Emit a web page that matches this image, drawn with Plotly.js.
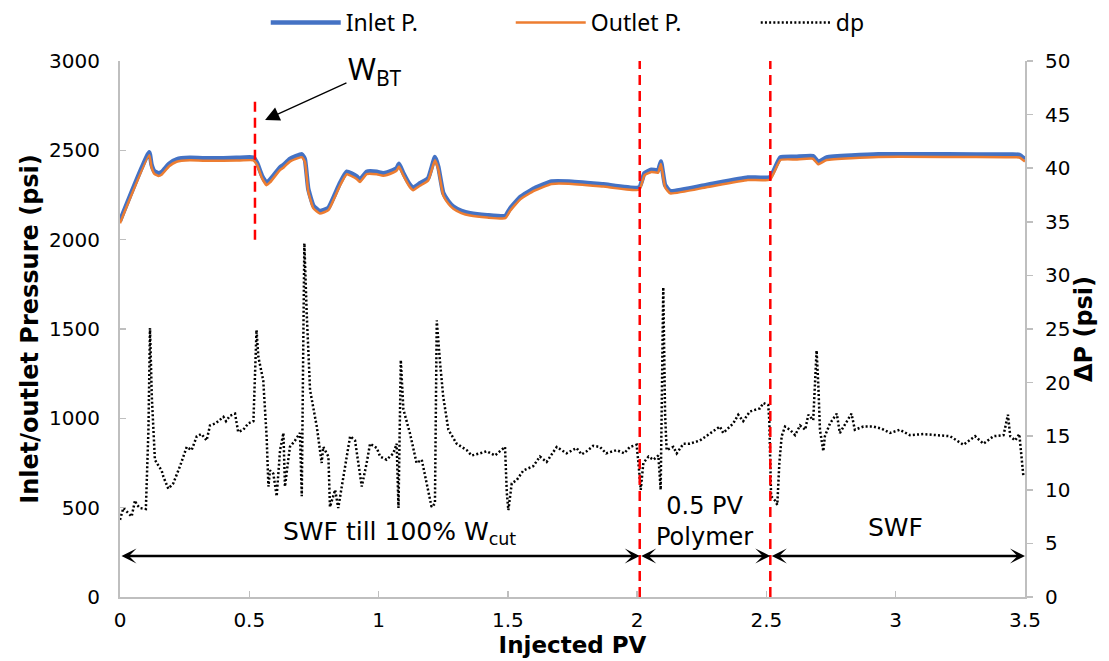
<!DOCTYPE html>
<html>
<head>
<meta charset="utf-8">
<script src="https://cdn.plot.ly/plotly-3.0.1.min.js"></script>
<style>html,body{margin:0;padding:0;background:#fff;}#chart{width:1109px;height:661px;}</style>
</head>
<body>
<div id="chart"></div>
<script>
// ---- Data ----
const pressureX = [0, 0.113, 0.122, 0.132, 0.148, 0.162, 0.19, 0.219, 0.27, 0.35, 0.45, 0.516, 0.53, 0.55, 0.567, 0.58, 0.619, 0.632, 0.657, 0.703, 0.715, 0.728, 0.748,
  0.773, 0.806, 0.83, 0.851, 0.877, 0.915, 0.928, 0.954, 0.993, 1.018, 1.057, 1.07, 1.079, 1.096, 1.121, 1.134, 1.16, 1.192, 1.218, 1.231, 1.25,
  1.27, 1.289, 1.32, 1.354, 1.42, 1.49, 1.509, 1.549, 1.603, 1.669, 1.736, 1.869, 2.008, 2.028, 2.055, 2.081, 2.092, 2.108, 2.128, 2.268, 2.428, 2.514,
  2.554, 2.614, 2.68, 2.7, 2.733, 2.933, 3.2, 3.425, 3.478, 3.5];
const inletP = [2105, 2490, 2420, 2385, 2372, 2380, 2425, 2450, 2458, 2455, 2458, 2460, 2430, 2355, 2318, 2335, 2405, 2418, 2452, 2478, 2450, 2285, 2190,
  2160, 2178, 2250, 2318, 2380, 2355, 2336, 2380, 2380, 2372, 2390, 2400, 2425, 2372, 2308, 2290, 2316, 2345, 2462, 2408, 2262,
  2215, 2186, 2162, 2148, 2137, 2133, 2175, 2240, 2288, 2326, 2326, 2310, 2292, 2372, 2392, 2388, 2438, 2306, 2272, 2306, 2348, 2350,
  2460, 2464, 2468, 2436, 2460, 2478, 2478, 2476, 2475, 2450];
const outletP = [2092, 2472, 2405, 2370, 2357, 2365, 2411, 2436, 2444, 2441, 2443, 2444, 2418, 2342, 2305, 2320, 2390, 2403, 2437, 2462, 2436, 2270, 2175,
  2146, 2165, 2236, 2303, 2366, 2340, 2323, 2367, 2366, 2358, 2376, 2386, 2410, 2358, 2294, 2277, 2302, 2331, 2444, 2393, 2248,
  2201, 2173, 2149, 2135, 2124, 2120, 2162, 2227, 2274, 2312, 2313, 2297, 2279, 2360, 2379, 2375, 2423, 2293, 2259, 2293, 2334, 2336,
  2446, 2449, 2453, 2422, 2446, 2463, 2463, 2461, 2460, 2437];

const dpX = [0, 0.013, 0.025, 0.045, 0.058, 0.065, 0.077, 0.1, 0.11, 0.116, 0.123, 0.135, 0.15, 0.161, 0.168, 0.187, 0.206, 0.232, 0.258, 0.277,
  0.297, 0.315, 0.335, 0.348, 0.37, 0.4, 0.41, 0.425, 0.445, 0.457, 0.477, 0.496, 0.516, 0.528, 0.535, 0.554, 0.567, 0.574, 0.58, 0.593,
  0.606, 0.619, 0.632, 0.638, 0.657, 0.677, 0.696, 0.703, 0.709, 0.713, 0.722, 0.735, 0.761, 0.78, 0.786, 0.806, 0.812, 0.832, 0.844, 0.864,
  0.89, 0.909, 0.922, 0.935, 0.954, 0.967, 0.993, 1.006, 1.031, 1.057, 1.07, 1.077, 1.086, 1.096, 1.121, 1.147, 1.167, 1.186, 1.205, 1.218,
  1.225, 1.238, 1.25, 1.27, 1.302, 1.341, 1.36, 1.392, 1.418, 1.45, 1.489, 1.496, 1.502, 1.515, 1.534, 1.56, 1.598, 1.624, 1.65, 1.689,
  1.727, 1.766, 1.785, 1.805, 1.83, 1.856, 1.88, 1.921, 1.95, 1.972, 1.998, 2.005, 2.014, 2.024, 2.044, 2.063, 2.082, 2.091, 2.097, 2.101,
  2.108, 2.114, 2.14, 2.153, 2.179, 2.204, 2.243, 2.282, 2.32, 2.333, 2.372, 2.391, 2.41, 2.436, 2.475, 2.488, 2.507, 2.511, 2.514, 2.518,
  2.533, 2.542, 2.55, 2.559, 2.572, 2.591, 2.611, 2.63, 2.65, 2.662, 2.681, 2.694, 2.701, 2.707, 2.72, 2.726, 2.746, 2.772, 2.784, 2.829,
  2.842, 2.875, 2.913, 2.946, 2.978, 3.016, 3.055, 3.107, 3.159, 3.21, 3.262, 3.307, 3.339, 3.378, 3.417, 3.434, 3.443, 3.462, 3.478, 3.485,
  3.494];
const dpVals = [7.2, 8.3, 8.0, 7.5, 9.0, 8.6, 8.3, 8.2, 15.6, 25.1, 18.7, 12.8, 12.2, 11.8, 11.2, 10.1, 10.6, 12.2, 14.0, 13.7,
  15.0, 15.2, 14.6, 16.0, 16.2, 16.8, 16.4, 16.9, 17.1, 15.4, 15.6, 16.2, 16.4, 24.9, 22.4, 20.2, 15.0, 10.3, 11.8, 11.5,
  9.4, 13.7, 15.3, 10.3, 14.0, 14.6, 15.3, 9.4, 24.0, 33.0, 26.5, 19.3, 15.9, 12.5, 14.0, 13.1, 8.4, 10.0, 8.3, 11.2,
  15.0, 14.6, 12.5, 10.3, 12.5, 14.3, 13.9, 13.1, 12.8, 13.4, 14.3, 8.3, 22.1, 17.5, 15.3, 12.5, 12.8, 10.6, 8.4, 8.7,
  25.8, 21.8, 18.7, 15.6, 14.3, 13.7, 13.2, 13.4, 13.6, 13.2, 14.0, 9.7, 8.1, 10.6, 10.9, 11.8, 12.2, 13.1, 12.6, 14.0,
  13.4, 13.9, 13.3, 13.6, 14.1, 14.0, 13.4, 13.7, 13.4, 14.0, 14.2, 12.5, 10.0, 12.5, 13.1, 12.8, 13.2, 10.0, 24.9, 28.9,
  17.1, 13.7, 14.0, 13.4, 14.3, 14.3, 14.6, 15.3, 15.9, 15.3, 16.2, 17.0, 16.4, 17.3, 17.6, 18.1, 17.9, 16.5, 12.5, 9.4,
  9.0, 8.6, 12.5, 15.0, 15.9, 15.6, 15.1, 16.0, 15.6, 17.0, 16.5, 23.0, 19.6, 15.6, 13.6, 15.0, 16.2, 17.1, 15.3, 17.1,
  15.6, 15.9, 15.9, 15.7, 15.3, 15.6, 15.1, 15.2, 15.1, 15.0, 14.2, 15.0, 14.3, 15.0, 15.1, 17.0, 15.0, 14.6, 15.2, 13.4,
  11.2];

// stage boundaries (Injected PV): water breakthrough, end of SWF, end of polymer slug
const wbtPV = 0.522;
const stageBounds = [2.01, 2.515];
const stageLabels = ["SWF till 100% W<sub>cut</sub>", "0.5 PV<br>Polymer", "SWF"];

const FONT = "DejaVu Sans, sans-serif";
const axisGray = "#BFBFBF";

const traces = [
  {x: pressureX, y: inletP, name: "Inlet P.", mode: "lines", yaxis: "y",
   line: {color: "#4472C4", width: 4.5, shape: "spline", smoothing: 0.4}},
  {x: pressureX, y: outletP, name: "Outlet P.", mode: "lines", yaxis: "y",
   line: {color: "#ED7D31", width: 2.5, shape: "spline", smoothing: 0.4}},
  {x: dpX, y: dpVals, name: "dp", mode: "lines", yaxis: "y2",
   line: {color: "#000000", width: 2.5, dash: "2px,2.2px"}}
];

const shapes = [
  {type: "line", xref: "x", yref: "y", x0: wbtPV, x1: wbtPV, y0: 2000, y1: 2800,
   line: {color: "#FF0000", width: 2.5, dash: "10px,6px"}}
];
stageBounds.forEach(b => shapes.push({type: "line", xref: "x", yref: "y", x0: b, x1: b, y0: 0, y1: 3000,
  line: {color: "#FF0000", width: 2.5, dash: "10px,6px"}}));

const edges = [0, stageBounds[0], stageBounds[1], 3.5];
const arrowY = 230;
const annotations = [];
for (let i = 0; i < 3; i++) {
  annotations.push({xref: "x", yref: "y", axref: "x", ayref: "y",
    x: edges[i + 1], y: arrowY, ax: edges[i], ay: arrowY, text: "",
    showarrow: true, arrowside: "end+start", arrowhead: 3, startarrowhead: 3,
    arrowsize: 1, startarrowsize: 1, arrowwidth: 2.5, arrowcolor: "#000"});
}
annotations.push({xref: "x", yref: "y", x: 1.08, y: 358, text: stageLabels[0], showarrow: false,
  font: {family: FONT, size: 25, color: "#000"}});
annotations.push({xref: "x", yref: "y", x: 2.26, y: 420, text: stageLabels[1], showarrow: false,
  font: {family: FONT, size: 24, color: "#000"}, yanchor: "middle"});
annotations.push({xref: "x", yref: "y", x: 3.0, y: 390, text: stageLabels[2], showarrow: false,
  font: {family: FONT, size: 25, color: "#000"}});
annotations.push({xref: "x", yref: "y", axref: "x", ayref: "y",
  x: 0.561, y: 2670, ax: 0.986, ay: 2950, text: "W<sub>BT</sub>", showarrow: true,
  arrowhead: 2, arrowsize: 2.2, arrowwidth: 1.3, arrowcolor: "#000",
  font: {family: "Noto Sans, sans-serif", size: 30, color: "#000"}});

const layout = {
  width: 1109, height: 661,
  margin: {l: 120, r: 84, t: 61, b: 64},
  paper_bgcolor: "#fff", plot_bgcolor: "#fff",
  font: {family: FONT, size: 20, color: "#000"},
  showlegend: true,
  legend: {orientation: "h", xref: "container", yref: "container", x: 0.571, xanchor: "center", y: 0.966, yanchor: "middle",
    font: {family: "Noto Sans, sans-serif", size: 23, color: "#000"},
    itemwidth: 70, entrywidth: 160, bgcolor: "rgba(0,0,0,0)", traceorder: "normal"},
  xaxis: {range: [0, 3.5], dtick: 0.5, tick0: 0, showgrid: false, zeroline: false,
    showline: true, linecolor: axisGray, linewidth: 2, ticks: "inside", ticklen: 6, tickcolor: axisGray, tickwidth: 1.5,
    tickfont: {size: 20}, ticklabelstandoff: 4,
    title: {text: "<b>Injected PV</b>", font: {size: 23}, standoff: 6}},
  yaxis: {range: [0, 3000], dtick: 500, tick0: 0, tickformat: "d", showgrid: false, zeroline: false,
    showline: true, linecolor: axisGray, linewidth: 2, ticks: "inside", ticklen: 6, tickcolor: axisGray, tickwidth: 1.5,
    tickfont: {size: 20}, ticklabelstandoff: 14,
    title: {text: "<b>Inlet/outlet Pressure (psi)</b>", font: {size: 24}, standoff: 4}},
  yaxis2: {range: [0, 50], dtick: 5, tick0: 0, overlaying: "y", side: "right", showgrid: false, zeroline: false,
    showline: true, linecolor: axisGray, linewidth: 2, ticks: "outside", ticklen: 6, tickcolor: axisGray, tickwidth: 1.5,
    tickfont: {size: 20}, ticklabelstandoff: 8,
    title: {text: "<b>ΔP (psi)</b>", font: {size: 24}, standoff: 4}},
  shapes: shapes,
  annotations: annotations
};

Plotly.newPlot("chart", traces, layout, {displayModeBar: false, staticPlot: true});
</script>
</body>
</html>
